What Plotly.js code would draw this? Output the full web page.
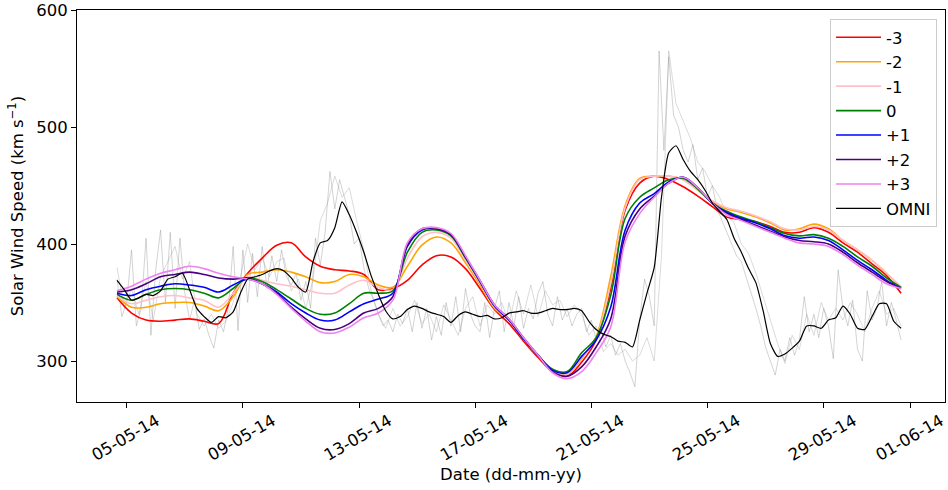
<!DOCTYPE html>
<html>
<head>
<meta charset="utf-8">
<script src="https://cdn.plot.ly/plotly-3.0.1.min.js"></script>
<style>html,body{margin:0;padding:0;background:#fff;}#chart{width:948px;height:490px;}</style>
</head>
<body>
<div id="chart"></div>
<script>
// ---------------- DATA ----------------
const modelStart = '2014-05-04 16:00';
const modelStepHours = 12;
const omniStart = '2014-05-04 16:00';
const omniStepHours = 6;
const rawAStart = '2014-05-04 16:00';
const rawAStepHours = 4;
const rawBStart = '2014-05-04 16:00';
const rawBStepHours = 6;

const seriesNames = ['-3', '-2', '-1', '0', '+1', '+2', '+3'];

const model_m3 = [354,341,335,334,335,336,334,332,358, 375,388,399,401,389,381,378,377,374, 361,362,369,382,390,389,379,362,344, 332,317,303,291,287,299,318,362,429, 452,458,455,449,441,432,423,421,419,415,410,410,414,410,401,393,383,373,358];
const model_m2 = [355,346,346,349,350,350,347,343,355, 374,376,378,376,372,367,368,374,372, 365,363,381,399,406,401,384,365,345, 335,319,305,292,289,302,321,372,433, 456,458,458,455,446,436,430,427,423,418,412,413,417,413,403,395,386,375,363];
const model_m1 = [356,349,352,355,356,354,352,346,358, 372,369,366,364,361,358,358,365,369, 363,361,388,406,410,405,386,367,346, 335,319,305,292,289,303,320,366,431, 455,458,458,455,446,437,431,428,424,419,413,412,415,412,403,395,386,375,363];
const model_0  = [357,352,357,361,362,361,358,354,362, 371,368,361,353,345,340,341,349,358, 358,360,393,410,412,407,388,368,347, 335,319,305,293,291,307,320,356,422, 440,448,455,456,447,435,428,423,419,414,409,407,408,405,398,389,381,371,363];
const model_p1 = [358,356,361,364,366,365,363,359,365, 370,366,359,349,341,335,335,342,349, 353,358,398,412,413,408,389,368,347, 335,319,305,292,290,304,318,346,412, 435,443,453,457,448,435,427,422,418,413,407,405,406,403,395,386,378,369,362];
const model_p2 = [359,361,366,372,374,376,374,371,370, 371,366,358,346,336,328,327,332,341, 345,355,399,413,413,408,389,369,348, 336,320,305,291,287,295,312,336,407, 430,441,452,457,448,435,426,421,416,411,406,403,402,400,393,384,376,368,362];
const model_p3 = [360,364,370,375,378,381,379,375,372, 370,366,357,345,334,325,324,329,337, 341,352,401,413,414,409,390,369,348, 336,320,305,290,285,291,307,329,402, 426,440,452,457,448,435,425,420,415,410,405,401,400,398,391,382,374,366,362];

const omni = [369,361,352,354,357,356,360,370,372,375, 361,345,338,333,338,337,342,358,370,372,
  374,377,379,377,371,363,359,385,401,403, 414,436,425,410,393,373,357,343,336,338,
  344,347,345,342,340,338,333,339,342,340, 338,339,336,337,341,342,343,341,341,343,
  345,344,344,345,343,334,327,323,321,317, 316,312,335,358,380,440,478,484,472,462,
  455,446,435,428,421,405,393,379,367,343, 315,304,306,311,317,330,330,328,335,337,
  347,340,328,327,338,349,349,334,328];

const rawA = [370,338,350,395,330,345,405,322,378,412, 350,410,345,405,358,335,352,327,336,322,
  311,335,325,345,398,326,395,350,392,355, 398,362,390,368,395,372,365,375,352,368,
  345,405,382,410,462,430,455,440,425,400, 405,380,362,352,340,330,335,325,340,332,
  345,325,350,328,345,318,338,322,350,330, 355,325,362,340,330,325,350,320,345,360,
  325,350,330,355,328,345,336,358,368,340, 330,355,335,345,330,340,345,325,335,318,
  328,312,322,305,315,300,290,278,335,370, 355,330,565,480,560,510,500,480,470,485,
  455,465,440,450,430,420,410,400,390,385, 372,360,345,330,312,300,288,310,300,320,
  305,318,355,325,340,320,345,330,302,378, 345,330,352,310,300,360,335,345,368,330,
  350,335,318];

const rawB = [380,345,362,340,368,335,372,385,398,370, 385,340,330,340,328,334,350,372,400,378,
  388,372,385,388,360,370,345,370,420,435, 458,440,448,420,395,360,340,328,345,330,
  338,352,332,340,325,348,335,322,345,355, 330,348,340,350,332,360,340,365,338,360,
  348,352,338,348,340,322,330,308,315,305, 310,300,305,320,300,390,565,520,505,490,
  470,462,450,440,425,418,400,392,375,355, 335,315,298,322,310,340,322,350,335,345,
  335,350,340,325,345,360,340,345,330];

const tickDates = ['2014-05-05','2014-05-09','2014-05-13','2014-05-17','2014-05-21','2014-05-25','2014-05-29','2014-06-01'];
const yTicks = [300, 400, 500, 600];

// ---------------- BUILD ----------------
function makeTimes(startStr, stepHours, n) {
  const t0 = Date.parse(startStr.replace(' ', 'T') + ':00Z');
  const out = [];
  for (let i = 0; i < n; i++) {
    out.push(new Date(t0 + i * stepHours * 3600e3).toISOString().slice(0, 19).replace('T', ' '));
  }
  return out;
}

const models = [model_m3, model_m2, model_m1, model_0, model_p1, model_p2, model_p3];
const colors = ['#ff0000', '#ffa500', '#ffc0cb', '#008000', '#0000ff', '#4b0082', '#ee82ee'];

const traces = [];
traces.push({x: makeTimes(rawAStart, rawAStepHours, rawA.length), y: rawA, mode: 'lines',
  line: {color: 'rgba(140,140,140,0.55)', width: 0.7}, showlegend: false, hoverinfo: 'skip'});
traces.push({x: makeTimes(rawBStart, rawBStepHours, rawB.length), y: rawB, mode: 'lines',
  line: {color: 'rgba(140,140,140,0.45)', width: 0.7}, showlegend: false, hoverinfo: 'skip'});

const modelTimes = makeTimes(modelStart, modelStepHours, model_m3.length);
models.forEach((m, k) => {
  traces.push({x: modelTimes, y: m, mode: 'lines', name: seriesNames[k],
    line: {color: colors[k], width: 1.6, shape: 'spline', smoothing: 1}});
});
traces.push({x: makeTimes(omniStart, omniStepHours, omni.length), y: omni, mode: 'lines', name: 'OMNI',
  line: {color: '#000000', width: 1.2, shape: 'spline', smoothing: 0.6}});

const font = {family: 'DejaVu Sans, sans-serif', size: 16.5, color: '#000'};

const layout = {
  width: 948, height: 490,
  margin: {l: 77, r: 3, t: 10, b: 88},
  paper_bgcolor: '#fff', plot_bgcolor: '#fff',
  font: font,
  showlegend: true,
  legend: {x: 0.9908, xanchor: 'right', y: 0.977, yanchor: 'top', itemwidth: 45,
    bgcolor: 'rgba(255,255,255,0.85)', bordercolor: '#cccccc', borderwidth: 1,
    font: font},
  xaxis: {type: 'date', range: ['2014-05-03 06:56', '2014-06-02 04:19'],
    tickvals: tickDates, tickformat: '%d-%m-%y', tickangle: -30, ticklabelshift: 30,
    ticklabelstandoff: -3, ticklabeloverflow: 'allow',
    ticks: 'outside', ticklen: 5, tickwidth: 1, tickcolor: '#000',
    showline: true, linecolor: '#000', linewidth: 1, mirror: true,
    showgrid: false, zeroline: false, tickfont: font,
    title: {text: 'Date (dd-mm-yy)', font: font, standoff: 4}},
  yaxis: {range: [265, 600], tickvals: yTicks,
    ticks: 'outside', ticklen: 5, tickwidth: 1, tickcolor: '#000',
    showline: true, linecolor: '#000', linewidth: 1, mirror: true,
    showgrid: false, zeroline: false, tickfont: font,
    title: {text: 'Solar Wind Speed (km s<sup>−1</sup>)', font: font, standoff: 8}}
};

Plotly.newPlot('chart', traces, layout, {displayModeBar: false, staticPlot: true});
</script>
</body>
</html>
